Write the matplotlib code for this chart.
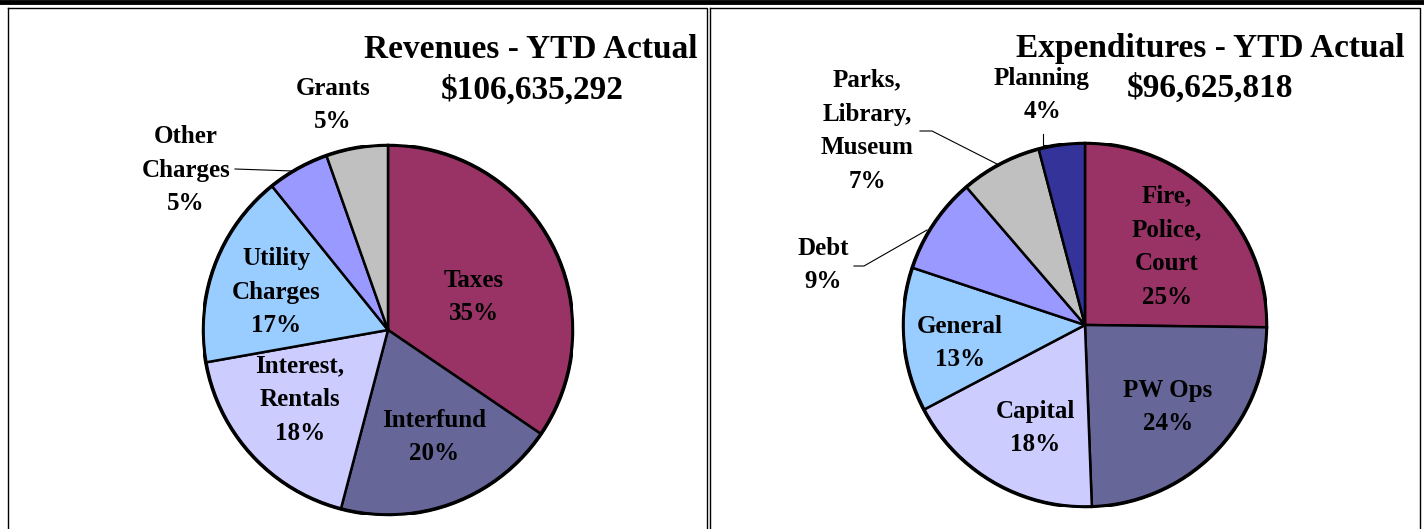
import math
import matplotlib.pyplot as plt
from matplotlib.lines import Line2D

plt.rcParams['font.family'] = ['Liberation Serif', 'DejaVu Serif']
plt.rcParams['font.weight'] = 'bold'

# revenue shares (percent of YTD actual)
rev_names = ["Taxes", "Interfund", "Interest,\nRentals", "Utility\nCharges", "Other\nCharges", "Grants"]
rev_values = [34.5, 19.6, 18.1, 17.0, 5.4, 5.4]
rev_colors = ["#993366", "#666699", "#CCCCFF", "#99CCFF", "#9999FF", "#C0C0C0"]
rev_title = "Revenues - YTD Actual"
rev_total = "$106,635,292"

# expenditure shares
exp_names = ["Fire,\nPolice,\nCourt", "PW Ops", "Capital", "General", "Debt", "Parks,\nLibrary,\nMuseum", "Planning"]
exp_values = [25.2, 24.2, 17.9, 12.8, 8.6, 7.2, 4.1]
exp_colors = ["#993366", "#666699", "#CCCCFF", "#99CCFF", "#9999FF", "#C0C0C0", "#333399"]
exp_title = "Expenditures - YTD Actual"
exp_total = "$96,625,818"

W, H = 1424, 529
fig = plt.figure(figsize=(W / 100, H / 100), dpi=100)

# overlay axes in pixel coords for frames, text and leader lines
ov = fig.add_axes([0, 0, 1, 1], zorder=5)
ov.set_xlim(0, W)
ov.set_ylim(H, 0)
ov.axis('off')
ov.patch.set_alpha(0)


def draw_pie(cx, cy, r, values, colors):
    ax = fig.add_axes([(cx - r) / W, (H - cy - r) / H, 2 * r / W, 2 * r / H])
    ax.pie(values, colors=colors, startangle=90, counterclock=False, radius=1,
           wedgeprops=dict(edgecolor='black', linewidth=1.8))
    circ = plt.Circle((0, 0), 1, fill=False, edgecolor='black', linewidth=2.6)
    ax.add_patch(circ)
    ax.set_xlim(-1, 1)
    ax.set_ylim(-1, 1)
    ax.axis('off')
    return ax


draw_pie(388, 330, 185, rev_values, rev_colors)
draw_pie(1085, 325, 182, exp_values, exp_colors)

# frames
ov.add_line(Line2D([0, W], [1.5, 1.5], color='black', lw=3.5))
for x0, x1 in [(8, 707), (710, 1420)]:
    ov.plot([x0, x1, x1], [7.5, 7.5, H], color='black', lw=1)
    ov.plot([x0, x0], [7.5, H], color='black', lw=1)

lab_fs = 18
tit_fs = 24


def lab(x, y, name, v, color='black'):
    pct = math.floor(v + 0.5)  # round half up, like the spreadsheet
    ov.text(x, y, f"{name}\n{pct}%", ha='center', va='center', fontsize=lab_fs,
            linespacing=1.6, color=color, fontweight='bold')


rev_pos = [(474, 297), (434, 437), (300, 400), (276, 292), (186, 170), (333, 105)]
for (x, y), n, v in zip(rev_pos, rev_names, rev_values):
    lab(x, y, n, v)

exp_pos = [(1167, 247), (1168, 407), (1035, 428), (960, 343), (823, 265), (867, 131), (1042, 95)]
for (x, y), n, v in zip(exp_pos, exp_names, exp_values):
    lab(x, y, n, v)

# leader lines
ov.plot([235, 293], [169, 171], color='black', lw=0.8)
ov.plot([854, 864, 927], [266, 266, 230], color='black', lw=0.8)
ov.plot([920, 932, 997], [131, 131, 164], color='black', lw=0.8)
ov.plot([1043, 1043, 1052], [134, 145, 145], color='black', lw=0.8)

ov.text(698, 50, rev_title, ha='right', va='center', fontsize=tit_fs, fontweight='bold')
ov.text(532, 90, rev_total, ha='center', va='center', fontsize=tit_fs, fontweight='bold')
ov.text(1405, 48, exp_title, ha='right', va='center', fontsize=tit_fs, fontweight='bold')
ov.text(1210, 88, exp_total, ha='center', va='center', fontsize=tit_fs, fontweight='bold')

fig.savefig("out.png", dpi=100)
